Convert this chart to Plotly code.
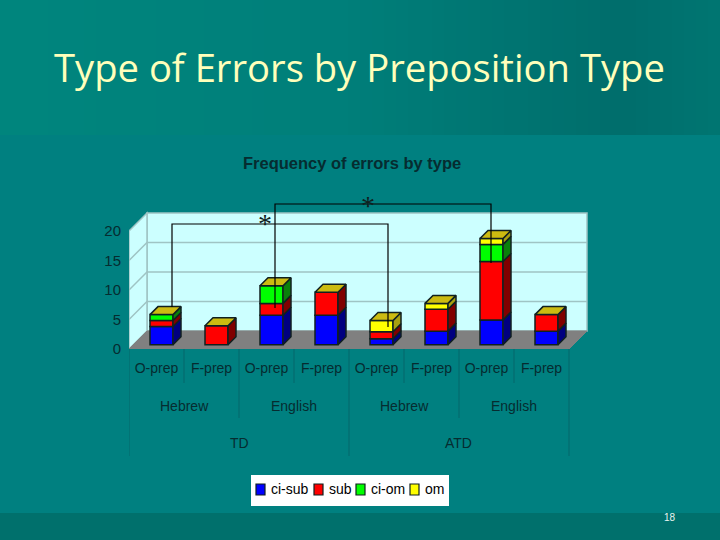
"""Frequency of errors by preposition type, drawn as a pseudo 3D stacked bar slide."""

import plotly.graph_objects as go

# Data
preps = ['O-prep', 'F-prep', 'O-prep', 'F-prep', 'O-prep', 'F-prep', 'O-prep', 'F-prep']
languages = ['Hebrew', 'English', 'Hebrew', 'English']
groups = ['TD', 'ATD']
y_ticks = [0, 5, 10, 15, 20]

ci_sub = [3.1, 0, 5, 5, 1, 2.3, 4.2, 2.3]
sub = [1, 3.2, 2, 3.9, 1.2, 3.7, 9.9, 2.8]
ci_om = [1, 0, 3, 0, 0, 0, 2.9, 0]
om = [0, 0, 0, 0, 1.9, 1, 1, 0]

series = [
    ('ci-sub', ci_sub, '#0000ff', '#000080'),
    ('sub', sub, '#ff0000', '#800000'),
    ('ci-om', ci_om, '#00ff00', '#0a800a'),
    ('om', om, '#ffff00', '#a8a010'),
]

# Geometry of the fake 3D box
W, H = 720, 540
X0, Y0 = 129, 349          # pixel position of the axis origin
PX_X, PX_Y = 55.0, 5.9     # pixels per category, pixels per unit
X_END, Y_END = 600, 190
WALL_DX, WALL_DY = 18 / PX_X, 18 / PX_Y
BAR_DX, BAR_DY = 8 / PX_X, 8 / PX_Y
BAR_W = 23 / PX_X
BAR_OFF = 32.5 / PX_X
BAR_BASE = 4.3 / PX_Y
N = len(preps)
TOP = 20

TEXT = '#062c30'
FONT = 'Liberation Sans'

fig = go.Figure()

# front faces go in as real bars, sides and tops as polygons around them
tops = [BAR_BASE] * N
sides = []
for name, values, color, dark in series:
    xs, bases, heights = [], [], []
    side_x, side_y = [], []
    for i, v in enumerate(values):
        if v == 0:
            continue
        xc = i + BAR_OFF
        xs.append(xc)
        bases.append(tops[i])
        heights.append(v)
        r = xc + BAR_W / 2
        side_x += [r, r + BAR_DX, r + BAR_DX, r, r, None]
        side_y += [tops[i], tops[i] + BAR_DY, tops[i] + v + BAR_DY, tops[i] + v, tops[i], None]
        tops[i] += v
    fig.add_trace(go.Bar(
        x=xs, y=heights, base=bases, width=BAR_W, name=name, showlegend=False,
        marker={'color': color, 'line': {'color': '#102020', 'width': 1.5}},
        hoverinfo='skip',
    ))
    sides.append((side_x, side_y, dark))

for side_x, side_y, dark in sides:
    fig.add_trace(go.Scatter(
        x=side_x, y=side_y, mode='lines', fill='toself', fillcolor=dark,
        line={'color': '#102020', 'width': 1.5}, showlegend=False, hoverinfo='skip',
    ))

top_x, top_y = [], []
for i in range(N):
    l = i + BAR_OFF - BAR_W / 2
    r = l + BAR_W
    t = tops[i]
    top_x += [l, l + BAR_DX, r + BAR_DX, r, l, None]
    top_y += [t, t + BAR_DY, t + BAR_DY, t, t, None]
fig.add_trace(go.Scatter(
    x=top_x, y=top_y, mode='lines', fill='toself', fillcolor='#ccbb11',
    line={'color': '#102020', 'width': 1.5}, showlegend=False, hoverinfo='skip',
))

shapes = []


def page_rect(x0, y0, x1, y1, color, layer='below', line=None):
    return {'type': 'rect', 'xref': 'paper', 'yref': 'paper', 'layer': layer,
            'x0': x0 / W, 'x1': x1 / W, 'y0': 1 - y0 / H, 'y1': 1 - y1 / H,
            'fillcolor': color, 'line': line or {'width': 0}}


def blend(stops, x):
    for (x0, c0), (x1, c1) in zip(stops, stops[1:]):
        if x <= x1:
            f = (x - x0) / (x1 - x0)
            return 'rgb(%d,%d,%d)' % tuple(a + (b - a) * f for a, b in zip(c0, c1))
    return 'rgb(%d,%d,%d)' % stops[-1][1]


# slide background: shaded title band and darker footer
band_stops = [(0, (0, 134, 126)), (350, (0, 127, 122)), (620, (0, 110, 108)), (720, (0, 118, 114))]
for x in range(0, W, 12):
    shapes.append(page_rect(x, 0, x + 12, 135, blend(band_stops, x + 6)))
shapes.append(page_rect(0, 513, W, H, '#00706c'))

# back wall, side wall, floor
wall_line = {'color': '#9fc4c4', 'width': 1.5}
shapes.append({'type': 'rect', 'x0': WALL_DX, 'x1': N + WALL_DX, 'y0': WALL_DY, 'y1': TOP + WALL_DY,
               'fillcolor': '#ccffff', 'line': wall_line, 'layer': 'below'})
shapes.append({'type': 'path', 'layer': 'below', 'fillcolor': '#ccffff', 'line': wall_line,
               'path': f'M 0 0 L {WALL_DX} {WALL_DY} L {WALL_DX} {TOP + WALL_DY} L 0 {TOP} Z'})
shapes.append({'type': 'path', 'layer': 'below', 'fillcolor': '#808080', 'line': {'color': '#808080', 'width': 1},
               'path': f'M 0 0 L {WALL_DX} {WALL_DY} L {N + WALL_DX} {WALL_DY} L {N} 0 Z'})
for t in y_ticks[1:-1]:
    shapes.append({'type': 'path', 'layer': 'below', 'line': wall_line,
                   'path': f'M 0 {t} L {WALL_DX} {t + WALL_DY} L {N + WALL_DX} {t + WALL_DY}'})

# category dividers below the axis
divider = {'color': '#05666a', 'width': 1}
for i in range(N + 1):
    if i % 4 == 0:
        bottom = 456
    elif i % 2 == 0:
        bottom = 418
    else:
        bottom = 383
    shapes.append({'type': 'line', 'xref': 'x', 'yref': 'paper', 'x0': i, 'x1': i,
                   'y0': 1 - Y0 / H, 'y1': 1 - bottom / H, 'line': divider})


def bracket(x0, y0, y_top, x1, y1):
    return {'type': 'path', 'xref': 'paper', 'yref': 'paper', 'line': {'color': '#000000', 'width': 1.2},
            'path': f'M {x0 / W} {1 - y0 / H} L {x0 / W} {1 - y_top / H} L {x1 / W} {1 - y_top / H} L {x1 / W} {1 - y1 / H}'}


shapes.append(bracket(172, 307, 224, 388, 327))
shapes.append(bracket(275, 308, 204, 491, 263))

annotations = [
    {'text': 'Type of Errors by Preposition Type', 'x': 359, 'y': 67, 'size': 38.2, 'color': '#ffffbb', 'font': 'Open Sans'},
    {'text': 'Frequency of errors by type', 'x': 352, 'y': 163, 'size': 16.5, 'color': TEXT, 'font': FONT, 'bold': True},
    {'text': '*', 'x': 265, 'y': 223, 'size': 28, 'color': '#102020', 'font': 'Liberation Serif'},
    {'text': '*', 'x': 368, 'y': 205, 'size': 28, 'color': '#102020', 'font': 'Liberation Serif'},
    {'text': '18', 'x': 670, 'y': 517, 'size': 10, 'color': '#e8f5f0', 'font': FONT},
]
for k, label in enumerate(languages):
    annotations.append({'text': label, 'x': X0 + PX_X * (2 * k + 1), 'y': 406, 'size': 14, 'color': TEXT, 'font': FONT})
for k, label in enumerate(groups):
    annotations.append({'text': label, 'x': X0 + PX_X * (4 * k + 2), 'y': 443, 'size': 14, 'color': TEXT, 'font': FONT})

# legend box, laid out by hand because the built-in one cannot be this tight
shapes.append(page_rect(251, 475, 449, 506, '#ffffff', layer='above'))
legend_swatch_x = [256, 314, 356, 410]
legend_text_x = [269, 327, 369, 423]
legend_items = []
for (name, values, color, dark), sx, tx in zip(series, legend_swatch_x, legend_text_x):
    shapes.append(page_rect(sx, 484, sx + 9, 495, color, layer='above', line={'color': '#102020', 'width': 1.2}))
    legend_items.append({'text': name, 'xref': 'paper', 'yref': 'paper', 'x': tx / W, 'y': 1 - 489 / H,
                         'xanchor': 'left', 'yanchor': 'middle', 'showarrow': False,
                         'font': {'family': FONT, 'size': 14, 'color': '#000000'}})

fig.update_layout(
    width=W, height=H,
    margin={'l': 0, 'r': 0, 't': 0, 'b': 0},
    paper_bgcolor='#008080',
    plot_bgcolor='rgba(0,0,0,0)',
    barmode='overlay',
    showlegend=False,
    shapes=shapes,
    annotations=[
        {'text': f"<b>{a['text']}</b>" if a.get('bold') else a['text'],
         'xref': 'paper', 'yref': 'paper', 'x': a['x'] / W, 'y': 1 - a['y'] / H,
         'xanchor': 'center', 'yanchor': 'middle', 'showarrow': False,
         'font': {'family': a['font'], 'size': a['size'], 'color': a['color']}}
        for a in annotations
    ] + legend_items,
    xaxis={
        'domain': [X0 / W, X_END / W], 'range': [0, (X_END - X0) / PX_X], 'automargin': False,
        'tickmode': 'array', 'tickvals': [i + 0.5 for i in range(N)], 'ticktext': preps,
        'ticks': 'outside', 'ticklen': 6, 'tickcolor': 'rgba(0,0,0,0)',
        'tickfont': {'family': FONT, 'size': 14, 'color': TEXT},
        'showgrid': False, 'zeroline': False,
    },
    yaxis={
        'domain': [1 - Y0 / H, 1 - Y_END / H], 'range': [0, (Y0 - Y_END) / PX_Y], 'automargin': False,
        'tickmode': 'array', 'tickvals': y_ticks,
        'ticks': 'outside', 'ticklen': 4, 'tickcolor': 'rgba(0,0,0,0)',
        'tickfont': {'family': FONT, 'size': 15, 'color': TEXT},
        'showgrid': False, 'zeroline': False,
    },
)

fig.write_html('out.html', config={'displayModeBar': False}, post_script="document.body.style.margin='0';")
